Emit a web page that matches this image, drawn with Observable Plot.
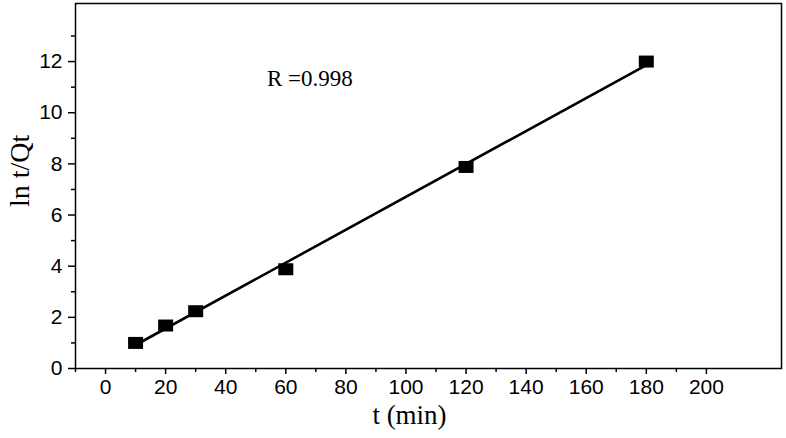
<!DOCTYPE html>
<html>
<head>
<meta charset="utf-8">
<script src="https://cdn.jsdelivr.net/npm/d3@7"></script>
<script src="https://cdn.jsdelivr.net/npm/@observablehq/plot@0.6"></script>
<style>
  html, body { margin: 0; padding: 0; background: #fff; }
</style>
</head>
<body>
<div id="chart"></div>
<script>
// Data
const times = [10, 20, 30, 60, 120, 180];
const lnTQt = [1.0, 1.68, 2.24, 3.88, 7.88, 12.0];

const xMajorTicks = [0, 20, 40, 60, 80, 100, 120, 140, 160, 180, 200];
const xMinorTicks = [-10, 10, 30, 50, 70, 90, 110, 130, 150, 170, 190];
const yMajorTicks = [0, 2, 4, 6, 8, 10, 12];
const yMinorTicks = [1, 3, 5, 7, 9, 11, 13];

const annoX = [68];
const annoY = [11.35];
const annoText = ["R =0.998"];

const xTitle = "t (min)";
const yTitle = "ln t/Qt";

const data = times.map((t, i) => ({t, v: lnTQt[i]}));
const anno = annoText.map((s, i) => ({x: annoX[i], y: annoY[i], s}));

const sans = "'Liberation Sans', Arial, Helvetica, sans-serif";
const serif = "'Liberation Serif', 'Times New Roman', serif";

const rectSymbol = {
  draw(context) {
    context.rect(-7.5, -6, 15, 12);
  }
};

const chart = Plot.plot({
  width: 786,
  height: 438,
  marginLeft: 75,
  marginRight: 5,
  marginTop: 3,
  marginBottom: 70,
  style: {fontFamily: sans, fontSize: "21px", color: "black", background: "white"},
  x: {domain: [-10, 225]},
  y: {domain: [0, 14.27]},
  marks: [
    Plot.frame({stroke: "black", strokeWidth: 1.5}),
    Plot.axisX(xMajorTicks, {tickSize: 6, tickPadding: 5, fontSize: 21, label: null, strokeWidth: 1.5, fill: "black"}),
    Plot.axisX(xMinorTicks, {tickSize: 4, text: null, label: null, strokeWidth: 1.5}),
    Plot.axisY(yMajorTicks, {tickSize: 7, tickPadding: 6, fontSize: 21, label: null, strokeWidth: 1.5, fill: "black"}),
    Plot.axisY(yMinorTicks, {tickSize: 4, text: null, label: null, strokeWidth: 1.5}),
    Plot.linearRegressionY(data, {x: "t", y: "v", stroke: "black", strokeWidth: 2.6, ci: 0}),
    Plot.dot(data, {x: "t", y: "v", symbol: rectSymbol, r: 5, fill: "black", stroke: "none"}),
    Plot.text(anno, {x: "x", y: "y", text: "s", fontFamily: serif, fontSize: 23, fill: "black", textAnchor: "middle", lineAnchor: "middle"}),
    Plot.text([xTitle], {frameAnchor: "bottom", text: d => d, dx: -19, dy: 47, fontFamily: serif, fontSize: 27, fill: "black", lineAnchor: "middle"}),
    Plot.text([yTitle], {frameAnchor: "left", text: d => d, dx: -55, dy: 21, rotate: -90, fontFamily: serif, fontSize: 28, fill: "black", lineAnchor: "middle"})
  ]
});

document.getElementById("chart").appendChild(chart);
</script>
</body>
</html>
